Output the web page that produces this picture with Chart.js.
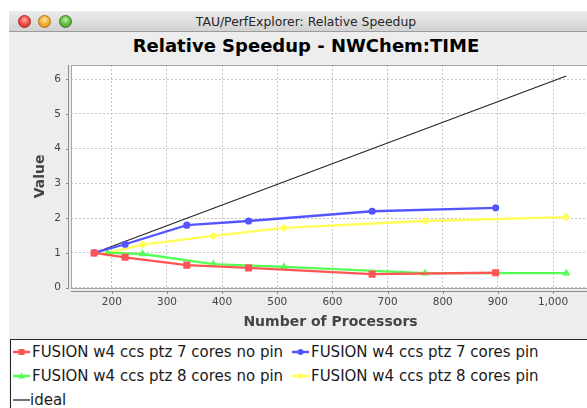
<!DOCTYPE html>
<html>
<head>
<meta charset="utf-8">
<script src="https://cdn.jsdelivr.net/npm/chart.js@4.4.1/dist/chart.umd.min.js"></script>
<style>
  html, body { margin:0; padding:0; }
  body { width:587px; height:408px; overflow:hidden; background:#fff; position:relative; font-family:"DejaVu Sans", sans-serif; }
  #win { position:absolute; left:9px; top:11px; width:594px; height:400px; background:#ededed; }
  #titlebar { position:absolute; left:0; top:0; width:594px; height:20px; background:linear-gradient(#ececec,#d2d2d2); border-bottom:1px solid #9c9c9c; }
  #titletext { position:absolute; left:0; width:594px; top:0; height:20px; line-height:21px; text-align:center; font-size:12.4px; color:#262626; }
  .light { position:absolute; top:4px; width:13px; height:13px; border-radius:50%; box-sizing:border-box; }
  #ctitle { position:absolute; left:0; width:594px; top:24px; line-height:22px; text-align:center; font-weight:bold; font-size:18px; color:#000; }
  #cwrap { position:absolute; left:0; top:21px; width:594px; height:306px; }
  #legend { position:absolute; left:1px; top:328px; width:620px; height:120px; background:#fff; border:1px solid #262626; }
  .item { position:absolute; height:20px; font-size:15px; line-height:20px; color:#1a1a1a; white-space:nowrap; }
  .item svg { position:absolute; left:0; top:5px; }
  .item span { position:absolute; top:0; }
</style>
</head>
<body>
<div id="win">
  <div id="titlebar">
    <div class="light" style="left:9px;background:radial-gradient(circle at 50% 35%, #ffb0a8 0%, #f2554a 45%, #c6231a 100%);border:1px solid #a8271f"></div>
    <div class="light" style="left:29px;background:radial-gradient(circle at 50% 35%, #ffe2a0 0%, #f5b43a 45%, #d4800d 100%);border:1px solid #b07016"></div>
    <div class="light" style="left:50px;background:radial-gradient(circle at 50% 35%, #c8f0a8 0%, #6cc24a 45%, #3a9122 100%);border:1px solid #3a7f26"></div>
    <div id="titletext">TAU/PerfExplorer: Relative Speedup</div>
  </div>
  <div id="ctitle">Relative Speedup - NWChem:TIME</div>
  <div id="cwrap"><canvas id="c" width="594" height="306"></canvas></div>
  <div id="legend"></div>
</div>
<script>
// ---- data ----
const procs7 = [168, 224, 336, 448, 672, 896];
const procs8 = [192, 256, 384, 512, 768, 1024];
const speedup7NoPin = [1.0, 0.875, 0.65, 0.57, 0.39, 0.43];
const speedup7Pin   = [1.0, 1.25, 1.80, 1.92, 2.20, 2.30];
const speedup8NoPin = [1.0, 0.97, 0.68, 0.60, 0.42, 0.42];
const speedup8Pin   = [1.0, 1.24, 1.49, 1.72, 1.92, 2.03];
const idealProcs    = [168, 1024];
const idealSpeedup  = [1.0, 6.095];
const seriesNames = [
  "FUSION w4 ccs ptz 7 cores no pin",
  "FUSION w4 ccs ptz 7 cores pin",
  "FUSION w4 ccs ptz 8 cores no pin",
  "FUSION w4 ccs ptz 8 cores pin",
  "ideal"
];
const xTicks = [200, 300, 400, 500, 600, 700, 800, 900, 1000];
const yTicks = [0, 1, 2, 3, 4, 5, 6];

// ---- styles ----
const colors = ["rgb(255,85,85)", "rgb(85,85,255)", "rgb(85,255,85)", "rgb(255,255,85)", "#262626"];
const shapes = ["rect", "circle", "triangle", "rectRot", false];
const radii = [5, 3.6, 4.6, 4.2, 0];

function pts(xs, ys) { return xs.map((x, i) => ({x: x, y: ys[i]})); }
const seriesData = [
  pts(procs7, speedup7NoPin),
  pts(procs7, speedup7Pin),
  pts(procs8, speedup8NoPin),
  pts(procs8, speedup8Pin),
  pts(idealProcs, idealSpeedup)
];

const datasets = seriesData.map((d, i) => ({
  label: seriesNames[i],
  data: d,
  showLine: true,
  borderColor: colors[i],
  backgroundColor: colors[i],
  borderWidth: i === 4 ? 1.2 : 2.3,
  pointStyle: shapes[i],
  pointRadius: radii[i],
  pointHoverRadius: radii[i],
  pointBorderWidth: 0,
  pointBackgroundColor: colors[i],
  tension: 0
}));

const tickFont = {family: "DejaVu Sans", size: 10.5};
const titleFont = {family: "DejaVu Sans", size: 14, weight: "bold"};

const frame = {
  id: "frame",
  beforeDraw(chart) {
    const {ctx, chartArea: a} = chart;
    ctx.save();
    ctx.fillStyle = "#fff";
    ctx.fillRect(a.left, a.top, a.right - a.left, a.bottom - a.top);
    ctx.restore();
  },
  afterDatasetsDraw(chart) {
    const {ctx, chartArea: a, scales} = chart;
    ctx.save();
    ctx.strokeStyle = "#a6a6a6";
    ctx.lineWidth = 1;
    ctx.strokeRect(Math.round(a.left) + 0.5, Math.round(a.top) + 0.5, a.right - a.left + 20, Math.round(a.bottom - a.top));
    ctx.strokeStyle = "#8a8a8a";
    const yl = Math.round(a.left) - 2.5;
    const xb = Math.round(a.bottom) + 3.5;
    ctx.beginPath();
    ctx.moveTo(yl, a.top); ctx.lineTo(yl, a.bottom + 1);
    ctx.moveTo(a.left, xb); ctx.lineTo(a.right + 20, xb);
    yTicks.forEach(v => { const p = Math.round(scales.y.getPixelForValue(v)) + 0.5; ctx.moveTo(yl - 2.5, p); ctx.lineTo(yl, p); });
    xTicks.forEach(v => { const p = Math.round(scales.x.getPixelForValue(v)) + 0.5; ctx.moveTo(p, xb); ctx.lineTo(p, xb + 2.5); });
    ctx.stroke();
    ctx.restore();
  }
};

new Chart(document.getElementById("c"), {
  type: "scatter",
  data: {datasets: datasets},
  options: {
    responsive: false,
    animation: false,
    events: [],
    layout: {padding: {top: 33, right: 13, left: 0, bottom: 0}},
    plugins: {legend: {display: false}, tooltip: {enabled: false}, title: {display: false}},
    scales: {
      x: {
        type: "linear",
        min: 126, max: 1067,
        afterFit(s) { s.height = 50.3; },
        afterBuildTicks(s) { s.ticks = xTicks.map(v => ({value: v})); },
        ticks: {font: tickFont, color: "#444", padding: 8, callback: v => v.toLocaleString("en-US")},
        grid: {color: "#c4c4c4", lineWidth: 1, drawTicks: false},
        border: {display: false, dash: [2, 2]},
        title: {display: true, text: "Number of Processors", font: titleFont, color: "#444", padding: {top: 0, bottom: 7}}
      },
      y: {
        type: "linear",
        min: 0, max: 6.41,
        afterFit(s) { s.width = 62; },
        afterBuildTicks(s) { s.ticks = yTicks.map(v => ({value: v})); },
        ticks: {font: tickFont, color: "#444", padding: 10},
        grid: {color: "#c4c4c4", lineWidth: 1, drawTicks: false},
        border: {display: false, dash: [2, 2]},
        title: {display: true, text: "Value", font: titleFont, color: "#444", padding: {top: 22.6, bottom: 0}}
      }
    }
  },
  plugins: [frame]
});

// ---- legend (HTML, from the same series) ----
function markerSvg(i) {
  const c = colors[i];
  let shape = "";
  if (shapes[i] === "rect") shape = `<rect x="5.5" y="2" width="6" height="6" fill="${c}"/>`;
  else if (shapes[i] === "circle") shape = `<circle cx="8.5" cy="5" r="3" fill="${c}"/>`;
  else if (shapes[i] === "triangle") shape = `<polygon points="8.5,1.5 12,7.5 5,7.5" fill="${c}"/>`;
  else if (shapes[i] === "rectRot") shape = `<polygon points="8.5,1.5 12,5 8.5,8.5 5,5" fill="${c}"/>`;
  const lw = i === 4 ? 1.3 : 2.5;
  return `<svg width="17" height="10" viewBox="0 0 17 10"><line x1="0" y1="5" x2="17" y2="5" stroke="${c}" stroke-width="${lw}"/>${shape}</svg>`;
}
const legendPos = [[2, 2], [281, 2], [2, 26.4], [281, 26.4], [2, 49.7]];
const leg = document.getElementById("legend");
seriesNames.forEach((name, i) => {
  const d = document.createElement("div");
  d.className = "item";
  d.style.left = legendPos[i][0] + "px";
  d.style.top = legendPos[i][1] + "px";
  d.innerHTML = markerSvg(i) + `<span style="left:${i === 4 ? 17 : 19}px">${name}</span>`;
  leg.appendChild(d);
});
</script>
</body>
</html>
